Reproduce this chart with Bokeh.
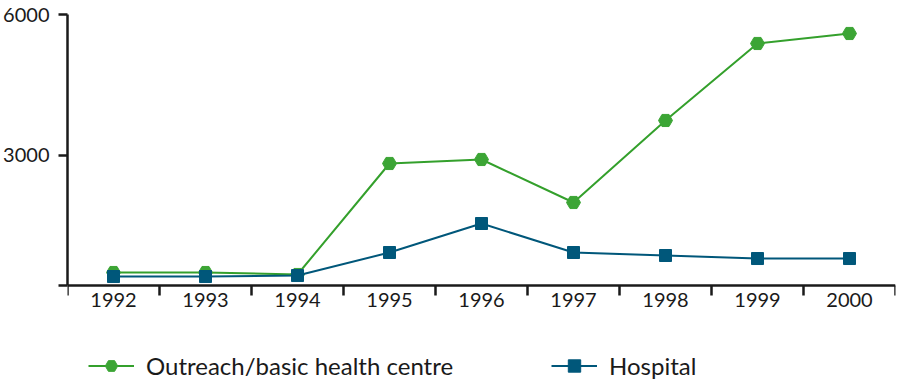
from bokeh.plotting import figure
from bokeh.models import Range1d, FixedTicker, Legend, LegendItem
from bokeh.embed import file_html
from bokeh.resources import INLINE

years = ["1992", "1993", "1994", "1995", "1996", "1997", "1998", "1999", "2000"]
outreach = [510, 510, 468, 2830, 2915, 2000, 3745, 5383, 5596]
hospital = [425, 425, 446, 936, 1553, 936, 872, 808, 808]
y_ticks = [3000, 6000]
y_axis_start = 234
y_end = 6000

GREEN_LINE = "#34a02c"
GREEN_FILL = "#3ca535"
BLUE = "#00577a"
TXT = "#1a1a1a"
FONT = "Lato"

W, H = 900, 382
TOP, LEFT, RIGHT = 14, 66, 5
AXIS_Y = 285  # pixel row of the x axis
units_per_px = (y_end - y_axis_start) / (AXIS_Y - TOP)
y_frame_start = y_axis_start - (H - AXIS_Y) * units_per_px

xs = [i + 0.5 for i in range(len(years))]

p = figure(width=W, height=H, output_backend="svg", toolbar_location=None,
           x_range=Range1d(0, len(years)), y_range=Range1d(y_frame_start, y_end),
           min_border_left=LEFT, min_border_right=RIGHT, min_border_top=TOP, min_border_bottom=0)
p.outline_line_color = None
p.grid.grid_line_color = None

l1 = p.line(xs, outreach, line_color=GREEN_LINE, line_width=2)
s1 = p.scatter(xs, outreach, marker="hex", size=14, fill_color=GREEN_FILL, line_color=GREEN_FILL)
l2 = p.line(xs, hospital, line_color=BLUE, line_width=2)
s2 = p.scatter(xs, hospital, marker="square", size=12, fill_color=BLUE, line_color=BLUE)

# x axis
xa = p.xaxis[0]
xa.fixed_location = y_axis_start
xa.ticker = FixedTicker(ticks=xs, minor_ticks=list(range(len(years) + 1)))
xa.major_label_overrides = {x: y for x, y in zip(xs, years)}
xa.major_tick_line_color = None
xa.major_tick_out = 0
xa.major_tick_in = 0
xa.minor_tick_out = 10
xa.minor_tick_in = 0
xa.minor_tick_line_width = 2.5
xa.minor_tick_line_color = "#1a1a1a"
xa.axis_line_width = 2.5
xa.axis_line_color = "#1a1a1a"
xa.major_label_text_font = FONT
xa.major_label_text_font_size = "20px"
xa.major_label_text_color = TXT
xa.major_label_standoff = -3

# y axis
ya = p.yaxis[0]
ya.bounds = (y_axis_start, y_end)
ya.ticker = FixedTicker(ticks=y_ticks, minor_ticks=[y_axis_start])
ya.major_tick_out = 9
ya.major_tick_in = 0
ya.major_tick_line_width = 2.5
ya.major_tick_line_color = "#1a1a1a"
ya.minor_tick_out = 9
ya.minor_tick_in = 0
ya.minor_tick_line_width = 2.5
ya.minor_tick_line_color = "#1a1a1a"
ya.axis_line_width = 2.5
ya.axis_line_color = "#1a1a1a"
ya.major_label_text_font = FONT
ya.major_label_text_font_size = "20px"
ya.major_label_text_color = TXT
ya.major_label_standoff = 9
ya.major_label_orientation = "horizontal"

legend = Legend(items=[
    LegendItem(label="Outreach/basic health centre", renderers=[l1, s1]),
    LegendItem(label="Hospital", renderers=[l2, s2]),
], location=(21, 1), orientation="horizontal")
legend.border_line_color = None
legend.background_fill_alpha = 0
legend.padding = 0
legend.margin = 0
legend.spacing = 2
legend.glyph_width = 46
legend.glyph_height = 31
legend.label_standoff = 12
legend.label_width = 403
legend.label_text_font = FONT
legend.label_text_font_size = "24px"
legend.label_text_color = TXT
p.add_layout(legend, "center")

open("out.html", "w").write(file_html(p, INLINE))
